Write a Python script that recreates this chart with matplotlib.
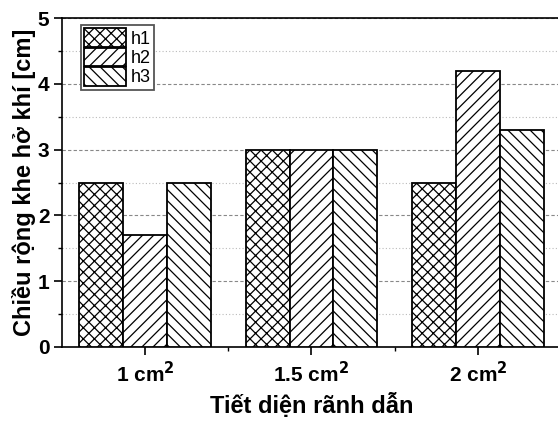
import matplotlib
matplotlib.use("Agg")
import matplotlib.pyplot as plt
import numpy as np

plt.rcParams['font.family'] = ['Liberation Sans', 'DejaVu Sans']
plt.rcParams['hatch.linewidth'] = 0.9

categories = ["1 cm$^\\mathbf{2}$", "1.5 cm$^\\mathbf{2}$", "2 cm$^\\mathbf{2}$"]
h1 = [2.5, 3.0, 2.5]
h2 = [1.7, 3.0, 4.2]
h3 = [2.5, 3.0, 3.3]
series = [("h1", h1, "xxx"), ("h2", h2, "///"), ("h3", h3, "\\\\\\")]

fig = plt.figure(figsize=(5.58, 4.21), dpi=100)
ax = fig.add_axes([0.111, 0.176, 0.8944, 0.781])

x = np.arange(1, len(categories) + 1)
w = 0.264
for i, (name, vals, hatch) in enumerate(series):
    ax.bar(x + (i - 1) * w, vals, w, color="white", edgecolor="black",
           hatch=hatch, linewidth=1.3, label=name, zorder=3)

ax.set_xlim(0.5, 3.5)
ax.set_ylim(0, 5)
ax.set_yticks([0, 1, 2, 3, 4, 5])
ax.set_yticks(np.arange(0.5, 5, 1.0), minor=True)
ax.set_xticks(x)
ax.set_xticks([1.5, 2.5], minor=True)
ax.set_xticklabels(categories, fontsize=15, fontweight="bold")
for t in ax.get_yticklabels():
    t.set_fontsize(15)
    t.set_fontweight("bold")

ax.yaxis.grid(True, which="major", linestyle=(0, (3, 2)), color="#888888", linewidth=0.8, zorder=0)
ax.yaxis.grid(True, which="minor", linestyle=(0, (1, 2)), color="#bbbbbb", linewidth=0.8, zorder=0)
ax.set_axisbelow(True)

ax.tick_params(axis="both", which="major", direction="out", length=6, width=1.2, pad=3)
ax.tick_params(axis="both", which="minor", direction="out", length=3, width=1.0)
ax.tick_params(axis="x", which="major", pad=4)
for s in ax.spines.values():
    s.set_linewidth(1.2)

ax.set_xlabel("Tiết diện rãnh dẫn", fontsize=17, fontweight="bold", labelpad=5)
ax.set_ylabel("Chiều rộng khe hở khí [cm]", fontsize=17, fontweight="bold", labelpad=1)

leg = ax.legend(loc="upper left", bbox_to_anchor=(0.038, 0.979), fontsize=13,
                handlelength=2.3, handleheight=1.22, handletextpad=0.3,
                labelspacing=0.0, borderpad=0.17, borderaxespad=0.0,
                fancybox=False, framealpha=1)
leg.get_frame().set_edgecolor("#555555")
leg.get_frame().set_linewidth(1.3)

fig.savefig("out.png", dpi=100)
